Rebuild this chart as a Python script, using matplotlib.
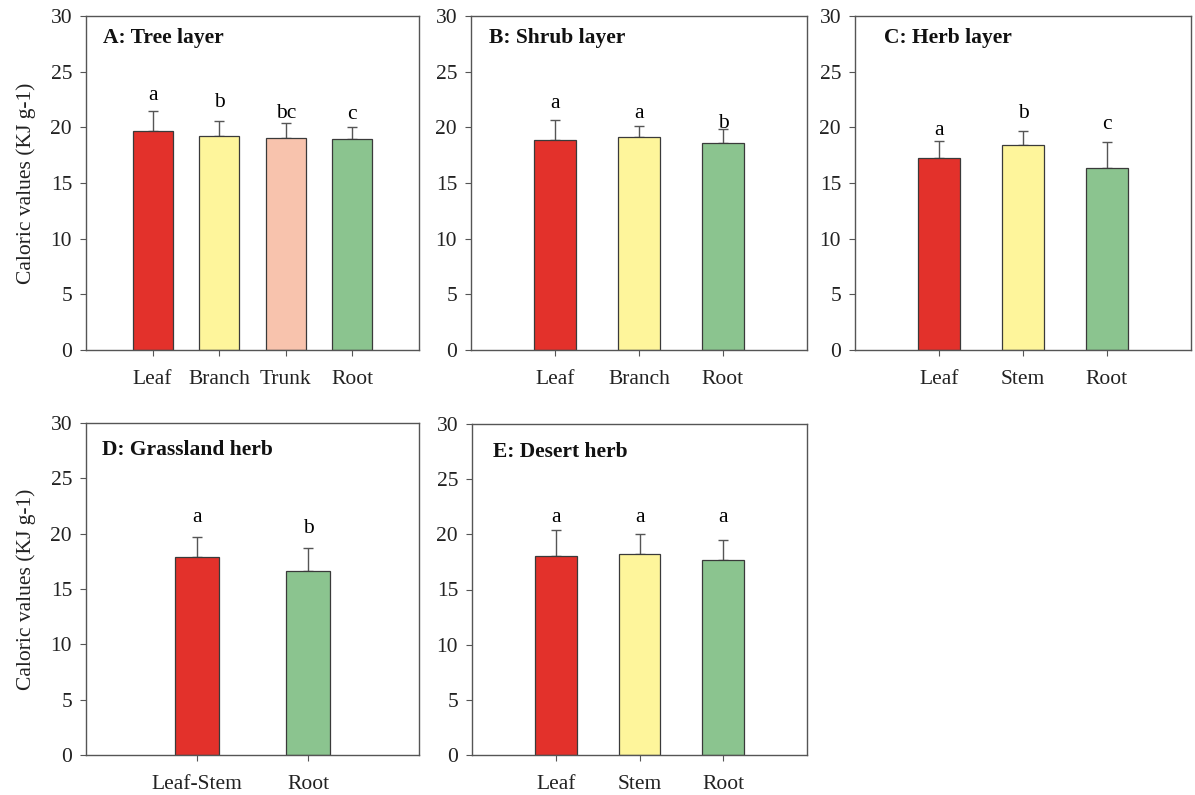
import matplotlib
matplotlib.use('Agg')
import matplotlib.pyplot as plt
import numpy as np

plt.rcParams['font.family'] = ['Liberation Serif', 'DejaVu Serif']
plt.rcParams['font.size'] = 15.5

# values (KJ g-1)
cats_A = ['Leaf', 'Branch', 'Trunk', 'Root']
mean_A = [19.64, 19.22, 19.04, 18.92]
err_A = [1.83, 1.32, 1.38, 1.11]
sig_A = ['a', 'b', 'bc', 'c']
sig_y_A = [22.46, 21.8, 20.8, 20.75]

cats_B = ['Leaf', 'Branch', 'Root']
mean_B = [18.86, 19.13, 18.56]
err_B = [1.77, 1.02, 1.32]
sig_B = ['a', 'a', 'b']
sig_y_B = [21.77, 20.8, 19.97]

cats_C = ['Leaf', 'Stem', 'Root']
mean_C = [17.28, 18.39, 16.38]
err_C = [1.53, 1.32, 2.31]
sig_C = ['a', 'b', 'c']
sig_y_C = [19.35, 20.8, 19.83]

cats_D = ['Leaf-Stem', 'Root']
mean_D = [17.87, 16.67]
err_D = [1.81, 1.99]
sig_D = ['a', 'b']
sig_y_D = [21.06, 20.07]

cats_E = ['Leaf', 'Stem', 'Root']
mean_E = [18.0, 18.21, 17.7]
err_E = [2.41, 1.84, 1.80]
sig_E = ['a', 'a', 'a']
sig_y_E = [21.1, 21.1, 21.1]

titles = ['A: Tree layer', 'B: Shrub layer', 'C: Herb layer', 'D: Grassland herb', 'E: Desert herb']

colors = {'Leaf': '#e3312b', 'Leaf-Stem': '#e3312b', 'Branch': '#fef59b', 'Stem': '#fef59b',
          'Trunk': '#f8c3ad', 'Root': '#8bc48f'}

W, H = 1195, 795
fig = plt.figure(figsize=(W/100, H/100), dpi=100)

# axes boxes in pixels: left, top, right, bottom
boxes = [(86, 16, 419, 350), (471, 16, 807, 350), (855, 16, 1191, 350),
         (86, 423, 419, 755), (472, 424, 807, 755)]
widths = [0.6, 0.5, 0.5, 0.4, 0.5]
title_off = [(17, 27), (18, 27), (29, 27), (16, 32), (21, 33)]

panels = [(cats_A, mean_A, err_A, sig_A, sig_y_A),
          (cats_B, mean_B, err_B, sig_B, sig_y_B),
          (cats_C, mean_C, err_C, sig_C, sig_y_C),
          (cats_D, mean_D, err_D, sig_D, sig_y_D),
          (cats_E, mean_E, err_E, sig_E, sig_y_E)]

for i, (cats, mean, err, sig, sig_y) in enumerate(panels):
    l, t, r, b = boxes[i]
    ax = fig.add_axes([l/W, (H-b)/H, (r-l)/W, (b-t)/H])
    x = np.arange(len(cats))
    ax.errorbar(x, mean, yerr=[np.zeros(len(err)), err], fmt='none', ecolor='#555555',
                elinewidth=1.0, capsize=3.5, capthick=1.0, zorder=1)
    ax.bar(x, mean, width=widths[i], color=[colors[c] for c in cats],
           edgecolor='#3a3a3a', linewidth=0.9, zorder=2)
    for xi, s, sy in zip(x, sig, sig_y):
        ax.text(xi, sy, s, ha='center', va='baseline', fontsize=15.5)
    ax.set_xlim(-1, len(cats))
    ax.set_ylim(0, 30)
    ax.set_yticks([0, 5, 10, 15, 20, 25, 30])
    ax.set_xticks(x)
    ax.set_xticklabels(cats)
    ax.tick_params(axis='y', direction='out', length=4.5, width=0.8, pad=5.5, colors='#555555',
                   labelcolor='#222222')
    ax.tick_params(axis='x', direction='out', length=4.5, width=0.8, pad=10, colors='#555555',
                   labelcolor='#222222')
    for sp in ax.spines.values():
        sp.set_color('#555555')
        sp.set_linewidth(1.0)
    ox, oy = title_off[i]
    ax.text(ox/(r-l), 1 - oy/(b-t), titles[i], transform=ax.transAxes,
            fontweight='bold', ha='left', va='baseline', fontsize=15.5, color='#111111')
    if i in (0, 3):
        ax.set_ylabel('Caloric values (KJ g-1)', color='#222222')
        ax.yaxis.set_label_coords(-(l - 36)/(r-l), 0.5)

fig.savefig('out.png', dpi=100)
